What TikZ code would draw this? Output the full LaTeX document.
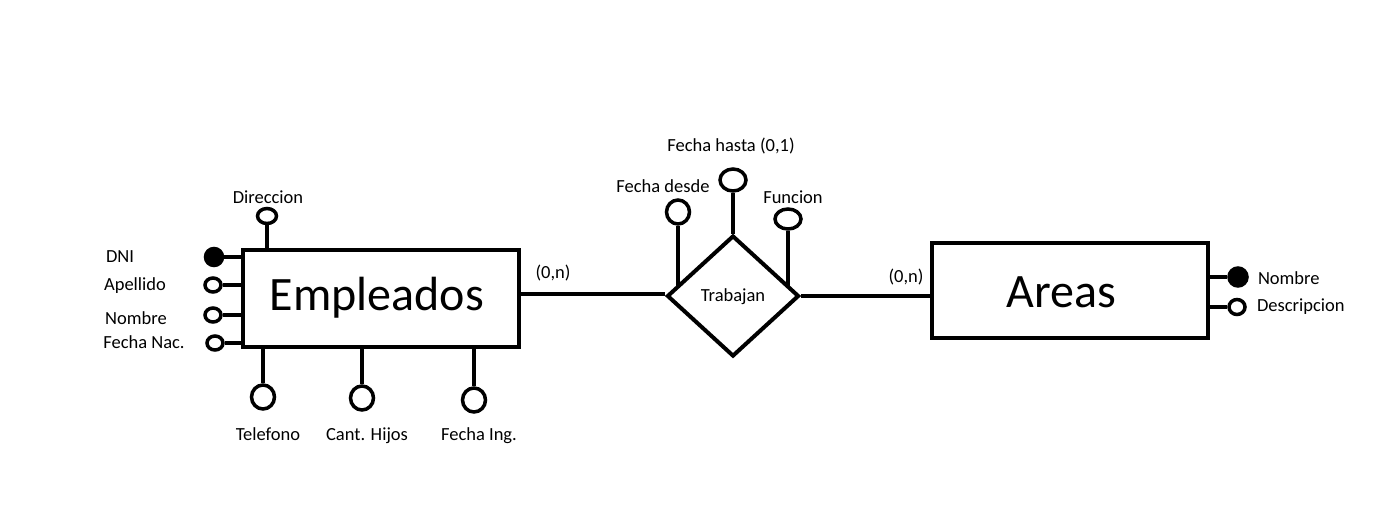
\documentclass[tikz,border=0pt]{standalone}
\usepackage{fontspec}
\setmainfont{Carlito}
\usetikzlibrary{shapes.geometric,calc}
\begin{document}
\begin{tikzpicture}[x=1pt,y=-1pt,
  line width=4pt,
  entity/.style={draw,rectangle,inner sep=0pt},
  etext/.style={inner sep=0pt,font=\fontsize{48}{54}\selectfont},
  rel/.style={draw,diamond,inner sep=0pt,aspect=1.09,minimum width=132pt,minimum height=121pt},
  attr/.style={draw,ellipse,inner sep=0pt,line width=3.5pt},
  keyattr/.style={attr,fill=black},
  lbl/.style={inner sep=0pt,font=\fontsize{18.5}{22}\selectfont}]
\useasboundingbox (0,0) rectangle (1389,528);
% entities
\node[entity,minimum width=276pt,minimum height=97pt] (emp) at (381,298.5) {};
\node[etext] (empt) at (377,298) {Empleados};
\node[entity,minimum width=276pt,minimum height=95pt] (area) at (1070,290.5) {};
\node[etext] (areat) at (1061,292) {Areas};
\node[rel] (trab) at (733,296) {};
\node[lbl] (trabt) at (733,297) {Trabajan};
% relationship lines
\draw (emp.east |- 0,294) coordinate (e1) -- (e1 -| trab.west);
\draw (trab.east) -- (trab.east -| area.west);
\node[lbl] (c1) at (553,273) {(0,n)};
\node[lbl] (c2) at (906,277) {(0,n)};
% Empleados left attributes
\node[keyattr,minimum width=17pt,minimum height=17pt] (dni) at (214,257) {};
\node[attr,minimum width=16pt,minimum height=14pt] (ape) at (213,285) {};
\node[attr,minimum width=16pt,minimum height=14pt] (nom) at (213,315) {};
\node[attr,minimum width=16pt,minimum height=14pt] (fnac) at (215,343) {};
\draw (dni) -- (dni -| emp.west);
\draw (ape) -- (ape -| emp.west);
\draw (nom) -- (nom -| emp.west);
\draw (fnac) -- (fnac -| emp.west);
\node[lbl] (ldni) at (120,257) {DNI};
\node[lbl] (lape) at (135,286) {Apellido};
\node[lbl] (lnom) at (136,318) {Nombre};
\node[lbl] (lfnac) at (144,342) {Fecha Nac.};
% Direccion
\node[attr,minimum width=19pt,minimum height=15pt] (dir) at (267,216) {};
\draw (dir) -- (dir |- emp.north);
\node[lbl] (ldir) at (268,197) {Direccion};
% bottom attributes
\node[attr,minimum width=23pt,minimum height=24pt] (tel) at (263,397) {};
\node[attr,minimum width=23pt,minimum height=24pt] (hij) at (362,398) {};
\node[attr,minimum width=23pt,minimum height=24pt] (fing) at (474,400) {};
\draw (tel) -- (tel |- emp.south);
\draw (hij) -- (hij |- emp.south);
\draw (fing) -- (fing |- emp.south);
\node[lbl] (ltel) at (268,434) {Telefono};
\node[lbl] (lhij) at (367,436) {Cant. Hijos};
\node[lbl] (lfing) at (479,436) {Fecha Ing.};
% relationship attributes
\node[attr,minimum width=23pt,minimum height=24pt] (fd) at (678,212) {};
\node[attr,minimum width=26pt,minimum height=22pt] (fh) at (733,180) {};
\node[attr,minimum width=26pt,minimum height=20pt] (fun) at (788,219) {};
\coordinate (fdend) at ($(trab.west)!0.1667!(trab.north)$);
\coordinate (funend) at ($(trab.east)!0.1667!(trab.north)$);
\draw (fd) -- (fd |- fdend);
\draw (fh) -- (trab.north);
\draw (fun) -- (fun |- funend);
\node[lbl] (lfd) at (663,186) {Fecha desde};
\node[lbl] (lfh) at (731,146) {Fecha hasta (0,1)};
\node[lbl] (lfun) at (793,197) {Funcion};
% Areas attributes
\node[keyattr,minimum width=18pt,minimum height=18pt] (anom) at (1238,277) {};
\node[attr,minimum width=16pt,minimum height=15pt] (adesc) at (1237,307) {};
\draw (anom) -- (anom -| area.east);
\draw (adesc) -- (adesc -| area.east);
\node[lbl,anchor=west] (lanom) at (1256,278) {Nombre};
\node[lbl,anchor=west] (ladesc) at (1255,307) {Descripcion};
\end{tikzpicture}
\end{document}
